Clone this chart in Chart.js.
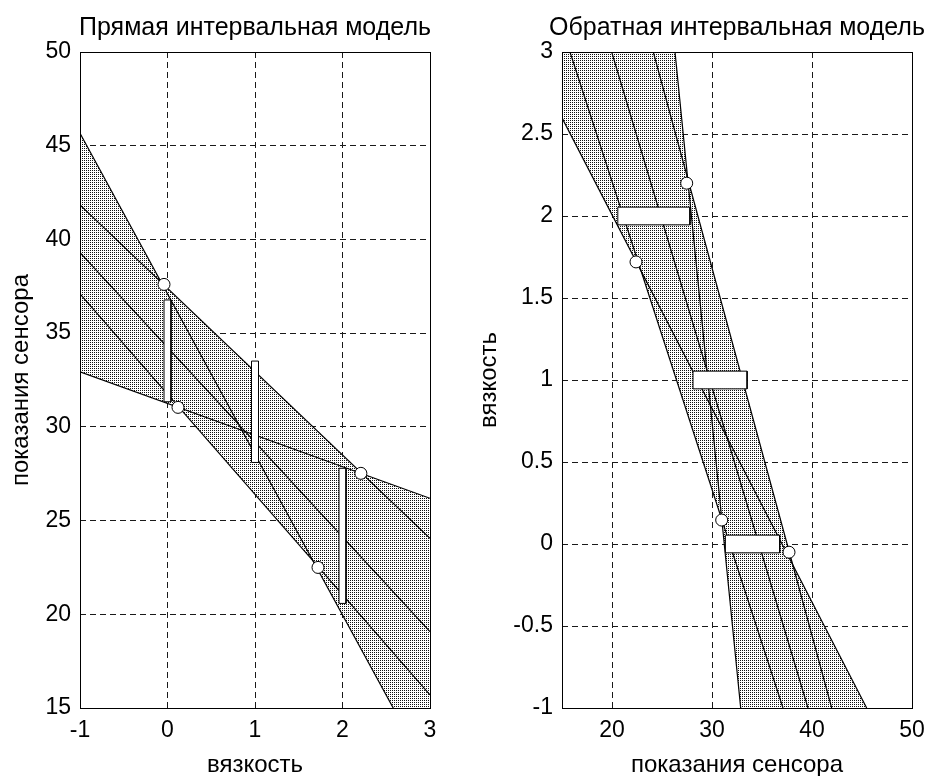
<!DOCTYPE html>
<html>
<head>
<meta charset="utf-8">
<script src="https://cdn.jsdelivr.net/npm/chart.js@4.4.1/dist/chart.umd.min.js"></script>
<style>
html,body{margin:0;padding:0;background:#fff;overflow:hidden;width:928px;height:776px;}
.wrap{position:absolute;top:0;height:780px;}
canvas{display:block;}
</style>
</head>
<body>
<div class="wrap" style="left:0px;width:510px"><canvas id="c1" width="510" height="780" style="width:510px;height:780px"></canvas></div>
<div class="wrap" style="left:460px;width:554px"><canvas id="c2" width="554" height="780" style="width:554px;height:780px"></canvas></div>
<script>
// ---------------- data ----------------
// measured intervals: viscosity level and sensor reading interval
const viscosity  = [0, 1, 2];
const sensorLow  = [31.34, 28.1, 20.58];
const sensorHigh = [36.77, 33.51, 27.79];

// direct model lines: sensor value at viscosity = -1 and at viscosity = 3
const fwdAtMinus1 = [45.66, 41.84, 39.29, 37.1, 32.94];
const fwdAt3      = [11.4, 24.05, 19.07, 15.7, 26.19];
// direct model marked vertices
const fwdCircleX = [-0.04, 0.12, 1.72, 2.21];
const fwdCircleY = [37.6, 31.04, 22.5, 27.52];

// inverse model lines: sensor value at viscosity = 3 and at viscosity = -1
const invAt3      = [11.6, 26.3, 24.13, 15.8, 19.97];
const invAtMinus1 = [45.47, 32.87, 41.97, 37.1, 39.6];
// inverse model marked vertices
const invCircleX = [22.4, 27.47, 30.97, 37.7];
const invCircleY = [1.72, 2.2, 0.146, -0.05];

// ticks
const fwdXTicks = [-1, 0, 1, 2, 3];
const fwdYTicks = [15, 20, 25, 30, 35, 40, 45, 50];
const invXTicks = [20, 30, 40, 50];
const invYTicks = [-1, -0.5, 0, 0.5, 1, 1.5, 2, 2.5, 3];

// ---------------- styles ----------------
const FONT = "'Liberation Sans', Arial, sans-serif";
const FWD_RECT_HALF = 0.04;   // half width of the interval boxes (x units)
const INV_RECT_HALF = 0.054;  // half height of the interval boxes (y units)

function makePattern() {
  const c = document.createElement('canvas');
  c.width = 2; c.height = 2;
  const g = c.getContext('2d');
  g.fillStyle = '#fff'; g.fillRect(0, 0, 2, 2);
  g.fillStyle = '#111';
  g.fillRect(0, 0, 1, 1);
  return g.createPattern(c, 'repeat');
}

function lineFn(p) {
  const m = (p.y2 - p.y1) / (p.x2 - p.x1);
  return x => p.y1 + m * (x - p.x1);
}
function envelopes(segs, xmin, xmax) {
  const xs = [xmin, xmax];
  for (let i = 0; i < segs.length; i++) {
    for (let j = i + 1; j < segs.length; j++) {
      const a = segs[i], b = segs[j];
      const ma = (a.y2 - a.y1) / (a.x2 - a.x1), mb = (b.y2 - b.y1) / (b.x2 - b.x1);
      if (Math.abs(ma - mb) < 1e-12) continue;
      const ca = a.y1 - ma * a.x1, cb = b.y1 - mb * b.x1;
      const x = (cb - ca) / (ma - mb);
      if (x > xmin && x < xmax) xs.push(x);
    }
  }
  xs.sort((p, q) => p - q);
  const fns = segs.map(lineFn);
  return {
    upper: xs.map(x => ({x, y: Math.max(...fns.map(f => f(x)))})),
    lower: xs.map(x => ({x, y: Math.min(...fns.map(f => f(x)))}))
  };
}

function buildDatasets(segs, xmin, xmax, rects, circles, pattern) {
  const ds = [];
  const noLine = {showLine: true, borderWidth: 0, borderColor: 'rgba(0,0,0,0)', pointRadius: 0};
  ds.push({data: circles, showLine: false, pointRadius: 6, pointBackgroundColor: '#fff',
           pointBorderColor: '#000', pointBorderWidth: 1, order: 1});
  rects.forEach(r => ds.push({data: r.outline, showLine: true, fill: false, borderColor: '#000',
           borderWidth: 1, pointRadius: 0, order: 2}));
  rects.forEach(r => {
    ds.push(Object.assign({data: r.top, fill: '+1', backgroundColor: '#fff', order: 3}, noLine));
    ds.push(Object.assign({data: r.bottom, fill: false, order: 3}, noLine));
  });
  segs.forEach(s => ds.push({data: [{x: s.x1, y: s.y1}, {x: s.x2, y: s.y2}], showLine: true,
           borderColor: '#000', borderWidth: 1.2, pointRadius: 0, fill: false, order: 4}));
  const env = envelopes(segs, xmin, xmax);
  ds.push(Object.assign({data: env.upper, fill: '+1', backgroundColor: pattern, order: 5}, noLine));
  ds.push(Object.assign({data: env.lower, fill: false, order: 5}, noLine));
  return ds;
}

const framePlugin = {
  id: 'frame',
  afterDraw(chart) {
    const {ctx, chartArea: a} = chart;
    ctx.save();
    ctx.strokeStyle = '#000';
    ctx.lineWidth = 1;
    ctx.setLineDash([]);
    ctx.strokeRect(Math.round(a.left) + 0.5, Math.round(a.top) + 0.5,
                   Math.round(a.right - a.left), Math.round(a.bottom - a.top));
    ctx.restore();
  }
};

function axis(min, max, ticks, title, size, titlePad, tickPad) {
  return {
    type: 'linear', min, max, z: 1,
    afterBuildTicks: s => { s.ticks = ticks.map(v => ({value: v})); },
    afterFit: s => { if (s.isHorizontal()) s.height = size; else s.width = size; },
    grid: {color: '#1a1a1a', lineWidth: 1, drawTicks: false},
    border: {display: false, dash: [6, 4]},
    ticks: {color: '#000', font: {family: FONT, size: 23}, padding: tickPad,
            maxRotation: 0, autoSkip: false, callback: v => String(v)},
    title: {display: true, text: title, color: '#000', font: {family: FONT, size: 24},
            padding: titlePad}
  };
}

// invisible right-side spacer axis so that the chart title centres over the plot box
function spacer(size) {
  return {
    type: 'linear', position: 'right', display: true,
    grid: {display: false}, ticks: {display: false}, border: {display: false},
    afterFit: s => { s.width = size; }
  };
}

function makeChart(id, datasets, titleText, xs, ys, rightSpace) {
  return new Chart(document.getElementById(id), {
    type: 'scatter',
    data: {datasets},
    options: {
      responsive: false, animation: false, events: [],
      layout: {padding: 0},
      plugins: {
        legend: {display: false}, tooltip: {enabled: false},
        title: {display: true, text: titleText, color: '#000',
                font: {family: FONT, size: 25, weight: 'normal'}, padding: {top: 13, bottom: 9}}
      },
      scales: {x: xs, y: ys, yR: spacer(rightSpace)}
    },
    plugins: [framePlugin]
  });
}

const pattern = makePattern();

// ---- direct model ----
const fwdSegs = fwdAtMinus1.map((v, i) => ({x1: -1, y1: v, x2: 3, y2: fwdAt3[i]}));
const fwdRects = viscosity.map((v, i) => {
  const l = v - FWD_RECT_HALF, r = v + FWD_RECT_HALF, lo = sensorLow[i], hi = sensorHigh[i];
  return {top: [{x: l, y: hi}, {x: r, y: hi}], bottom: [{x: l, y: lo}, {x: r, y: lo}],
          outline: [{x: l, y: lo}, {x: l, y: hi}, {x: r, y: hi}, {x: r, y: lo}, {x: l, y: lo}]};
});
const fwdCircles = fwdCircleX.map((x, i) => ({x, y: fwdCircleY[i]}));
makeChart('c1', buildDatasets(fwdSegs, -1, 3, fwdRects, fwdCircles, pattern),
  'Прямая интервальная модель',
  axis(-1, 3, fwdXTicks, 'вязкость', 72, {top: 0, bottom: 0}, 9),
  axis(15, 50, fwdYTicks, 'показания сенсора', 80, {top: 7, bottom: 0}, 9),
  80);

// ---- inverse model ----
const invSegs = invAt3.map((v, i) => ({x1: v, y1: 3, x2: invAtMinus1[i], y2: -1}));
const invRects = viscosity.map((v, i) => {
  const b = v - INV_RECT_HALF, t = v + INV_RECT_HALF, lo = sensorLow[i], hi = sensorHigh[i];
  return {top: [{x: lo, y: t}, {x: hi, y: t}], bottom: [{x: lo, y: b}, {x: hi, y: b}],
          outline: [{x: lo, y: b}, {x: lo, y: t}, {x: hi, y: t}, {x: hi, y: b}, {x: lo, y: b}]};
});
const invCircles = invCircleX.map((x, i) => ({x, y: invCircleY[i]}));
makeChart('c2', buildDatasets(invSegs, 15, 50, invRects, invCircles, pattern),
  'Обратная интервальная модель',
  axis(15, 50, invXTicks, 'показания сенсора', 72, {top: 0, bottom: 0}, 9),
  axis(-1, 3, invYTicks, 'вязкость', 102, {top: 15, bottom: 0}, 9),
  102);
</script>
</body>
</html>
